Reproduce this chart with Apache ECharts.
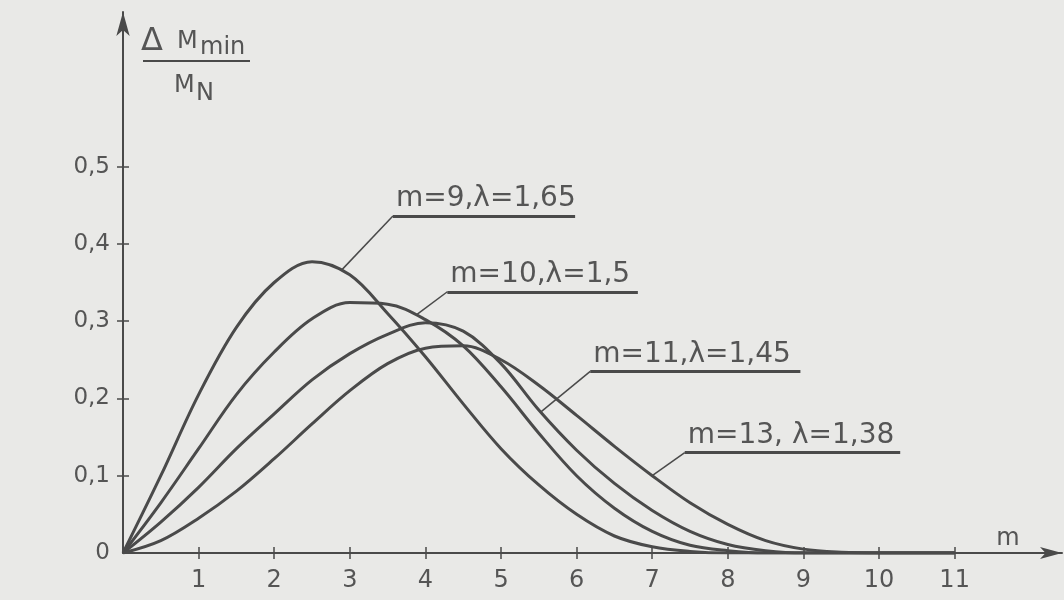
<!DOCTYPE html>
<html>
<head>
<meta charset="utf-8">
<script src="https://cdn.jsdelivr.net/npm/echarts@6/dist/echarts.min.js"></script>
<style>
  html, body { margin: 0; background: #e9e9e7; }
  #chart { width: 1064px; height: 600px; }
</style>
</head>
<body>
<div id="chart"></div>
<script>
// m values along the x axis
const mValues = [0, 0.5, 1, 1.5, 2, 2.5, 3, 3.5, 4, 4.5, 5, 5.5, 6, 6.5, 7, 7.5, 8, 8.5, 9, 9.5, 10, 10.5, 11];

// ΔMmin / MN
const curveM9  = [0, 0.100, 0.205, 0.292, 0.350, 0.377, 0.360, 0.310, 0.254, 0.193, 0.135, 0.088, 0.050, 0.022, 0.008, 0.002, 0, 0, 0, 0, 0, 0, 0];
const curveM10 = [0, 0.065, 0.135, 0.205, 0.260, 0.303, 0.324, 0.322, 0.302, 0.268, 0.215, 0.155, 0.100, 0.058, 0.028, 0.010, 0.003, 0, 0, 0, 0, 0, 0];
const curveM11 = [0, 0.040, 0.085, 0.135, 0.180, 0.224, 0.258, 0.283, 0.298, 0.287, 0.245, 0.185, 0.133, 0.090, 0.055, 0.028, 0.011, 0.003, 0, 0, 0, 0, 0];
const curveM13 = [0, 0.016, 0.045, 0.080, 0.122, 0.167, 0.210, 0.245, 0.265, 0.268, 0.250, 0.217, 0.178, 0.138, 0.100, 0.065, 0.037, 0.016, 0.005, 0.001, 0, 0, 0];

const curveNames = ['m=9,λ=1,65', 'm=10,λ=1,5', 'm=11,λ=1,45', 'm=13, λ=1,38'];
const curves = [curveM9, curveM10, curveM11, curveM13];

const xTickValues = [1, 2, 3, 4, 5, 6, 7, 8, 9, 10, 11];
const yTickValues = [0.1, 0.2, 0.3, 0.4, 0.5];
const yLabelValues = [0, 0.1, 0.2, 0.3, 0.4, 0.5];

// callouts in data units: point on the curve, underline start, underline end
const calloutAnchors = [
  [[2.9, 0.367], [3.57, 0.436], [5.98, 0.436]],
  [[3.88, 0.308], [4.29, 0.338], [6.81, 0.338]],
  [[5.52, 0.182], [6.18, 0.235], [8.96, 0.235]],
  [[7.0, 0.100], [7.43, 0.130], [10.28, 0.130]]
];

const ink = '#4a4a4a';
const textInk = '#555';
const font = 'DejaVu Sans';

const chart = echarts.init(document.getElementById('chart'));

const commaFmt = v => (v === 0 ? '0' : v.toFixed(1).replace('.', ','));

const series = curves.map((vals, i) => ({
  type: 'line',
  name: curveNames[i],
  data: mValues.map((m, j) => [m, vals[j]]),
  showSymbol: false,
  smooth: 0.35,
  lineStyle: { color: ink, width: 3 },
  silent: true,
  markLine: {
    silent: true,
    symbol: ['none', 'none'],
    animation: false,
    label: { show: false },
    emphasis: { disabled: true },
    data: [
      [
        { coord: calloutAnchors[i][0], lineStyle: { color: ink, width: 1.5, type: 'solid' } },
        { coord: calloutAnchors[i][1] }
      ],
      [
        {
          coord: calloutAnchors[i][1],
          lineStyle: { color: ink, width: 3, type: 'solid' },
          label: {
            show: true,
            formatter: curveNames[i],
            position: 'insideStartTop',
            distance: 3,
            color: textInk,
            fontFamily: font,
            fontSize: 28
          }
        },
        { coord: calloutAnchors[i][2] }
      ]
    ]
  }
}));

const xBase = { type: 'value', min: 0, max: 12.42, interval: 1, splitLine: { show: false } };
const yBase = { type: 'value', min: 0, max: 0.7, interval: 0.1, splitLine: { show: false } };

const textStyle = (x, y, text, size, align) => ({
  type: 'text',
  style: { x: x, y: y, text: text, fontSize: size, fontFamily: font, fill: textInk, textAlign: align || 'left', textVerticalAlign: 'middle' }
});

chart.setOption({
  backgroundColor: '#e9e9e7',
  animation: false,
  grid: { left: 123, right: 2, top: 12, bottom: 47, outerBoundsMode: 'none' },
  xAxis: [
    {
      ...xBase,
      position: 'bottom',
      axisLine: { show: true, symbol: ['none', 'arrow'], symbolSize: [9, 22], lineStyle: { color: ink, width: 2 } },
      axisTick: { show: true, customValues: xTickValues, length: 6, lineStyle: { color: ink, width: 1.5 } },
      axisLabel: { customValues: xTickValues, margin: 16, color: textInk, fontFamily: font, fontSize: 24 }
    },
    {
      ...xBase,
      position: 'bottom',
      axisLine: { show: false },
      axisTick: { show: true, inside: true, customValues: xTickValues, length: 6, lineStyle: { color: ink, width: 1.5 } },
      axisLabel: { show: false }
    }
  ],
  yAxis: [
    {
      ...yBase,
      position: 'left',
      axisLine: { show: true, symbol: ['none', 'arrow'], symbolSize: [10, 24], lineStyle: { color: ink, width: 2 } },
      axisTick: { show: true, customValues: yTickValues, length: 6, lineStyle: { color: ink, width: 1.5 } },
      axisLabel: { customValues: yLabelValues, margin: 13, formatter: commaFmt, color: textInk, fontFamily: font, fontSize: 23 }
    },
    {
      ...yBase,
      position: 'left',
      offset: 0,
      axisLine: { show: false },
      axisTick: { show: true, inside: true, customValues: yTickValues, length: 6, lineStyle: { color: ink, width: 1.5 } },
      axisLabel: { show: false }
    }
  ],
  graphic: [
    textStyle(141, 42, 'Δ', 32),
    textStyle(177, 42, 'M', 24),
    textStyle(200, 48, 'min', 24),
    { type: 'line', shape: { x1: 143, y1: 61, x2: 250, y2: 61 }, style: { stroke: ink, lineWidth: 2 } },
    textStyle(174, 86, 'M', 24),
    textStyle(196, 94, 'N', 24),
    textStyle(1008, 539, 'm', 24, 'center')
  ],
  series: series
});
</script>
</body>
</html>
